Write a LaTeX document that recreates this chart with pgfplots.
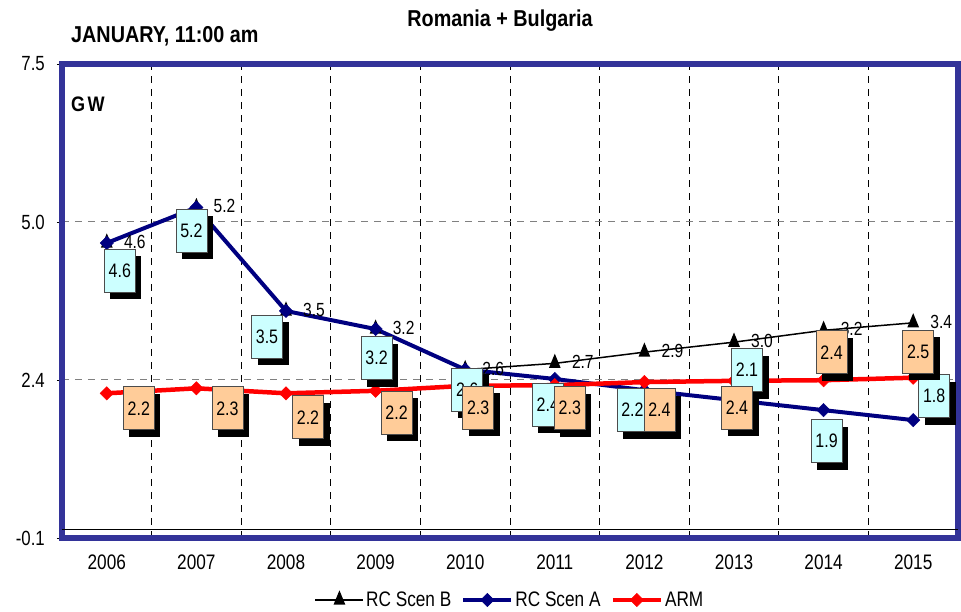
\documentclass[border=0pt]{standalone}
\usepackage{fontspec}
\setmainfont[FakeStretch=0.82]{Liberation Sans}
\newfontfamily\tfont[FakeStretch=0.86]{Liberation Sans}
\usepackage{pgfplots}
\pgfplotsset{compat=1.18}
\usepackage{pgfplotstable}
\usetikzlibrary{shadows}
\definecolor{frameblue}{RGB}{51,51,153}
\definecolor{navyA}{RGB}{0,0,128}
\definecolor{cyanbox}{RGB}{204,255,255}
\definecolor{orangebox}{RGB}{255,204,153}

% RC Scen B
\pgfplotstableread{
x y lab
0 4.63 4.6
1 5.20 5.2
2 3.54 3.5
3 3.25 3.2
4 2.60 2.6
5 2.70 2.7
6 2.88 2.9
7 3.04 3.0
8 3.23 3.2
9 3.35 3.4
}\tabB
% RC Scen A (dx, dy: label box offsets in pt)
\pgfplotstableread{
x y lab dx dy
0 4.63 4.6 13 -28
1 5.20 5.2 -5 -23
2 3.54 3.5 -19 -26
3 3.25 3.2 1 -29
4 2.60 2.6 2 -20
5 2.45 2.4 -7 -26
6 2.27 2.2 -12 -20
7 2.11 2.1 13 30
8 1.95 1.9 3 -31
9 1.79 1.8 21 24
}\tabA
% ARM
\pgfplotstableread{
x y lab dx dy
0 2.22 2.2 32 -15
1 2.30 2.3 31 -20
2 2.22 2.2 22 -24
3 2.26 2.2 21 -22
4 2.34 2.3 13 -22
5 2.35 2.3 15 -23
6 2.40 2.4 15 -28
7 2.42 2.4 3 -27
8 2.43 2.4 8 28
9 2.47 2.5 5 26
}\tabARM

\pgfplotsset{
  labelbox/.style={
    draw=none, mark=none, forget plot,
    nodes near coords, point meta=explicit symbolic,
    visualization depends on={\thisrow{dx}\as\dx},
    visualization depends on={\thisrow{dy}\as\dy},
    every node near coord/.append style={
      anchor=center, xshift=\dx pt, yshift=\dy pt,
      draw=black!70, line width=0.8pt, fill=#1,
      minimum width=31pt, minimum height=43pt, inner sep=0pt,
      font=\fontsize{19.5}{19.5}\selectfont,
      drop shadow={shadow xshift=6pt, shadow yshift=-7pt, fill=black, opacity=1}
    }
  }
}

\begin{document}
\begin{tikzpicture}
\useasboundingbox (-62pt,-74pt) rectangle (899pt,538pt);
\begin{axis}[
  at={(0pt,0pt)}, anchor=south west,
  width=896pt, height=474pt, scale only axis,
  clip=false,
  xmin=-0.5, xmax=9.5, ymin=-0.1, ymax=7.5,
  xtick={0,...,9},
  xticklabels={2006,2007,2008,2009,2010,2011,2012,2013,2014,2015},
  minor xtick={0.5,1.5,...,8.5},
  minor tick length=0pt,
  xminorgrids,
  minor grid style={black, line width=0.8pt, dash pattern=on 7pt off 6pt},
  ytick={-0.1,2.4333,4.9667,7.5},
  yticklabels={-0.1,2.4,5.0,7.5},
  ymajorgrids,
  major grid style={gray, line width=1pt, dash pattern=on 7pt off 6pt},
  extra y ticks={0.044},
  extra y tick labels={},
  extra y tick style={major grid style={black, solid, line width=0.8pt}, tick style={draw=none}},
  axis line style={draw=frameblue, line width=6pt, line cap=rect},
  tick align=outside,
  major tick length=5pt,
  xtick style={draw=none},
  ytick style={black, line width=0.8pt},
  ytick pos=left, xtick pos=bottom,
  yticklabel style={anchor=east, inner sep=0pt, xshift=-12pt, font=\fontsize{20.5}{20.5}\selectfont},
  xticklabel style={anchor=base, inner sep=0pt, yshift=-27pt, font=\fontsize{21}{21}\selectfont},
  legend columns=3,
  legend style={at={(0.5,-0.1308)}, anchor=center, draw=none, fill=none,
    font=\fontsize{21}{21}\selectfont,
    nodes={inner sep=2pt},
    /tikz/every even column/.append style={column sep=8pt}},
  legend image code/.code={\draw[mark repeat=2,mark phase=2,#1] plot coordinates {(0pt,0pt) (24pt,0pt) (48pt,0pt)};},
]
% lines
\addplot[black, line width=1.5pt, mark=triangle*, mark size=5.5pt, mark options={yscale=1.4, solid}] table[x=x,y=y] {\tabB};
\addlegendentry{RC Scen B}
\addplot[navyA, line width=4pt, mark=square*, mark size=4.7pt, mark options={rotate=45, solid, line width=0.5pt}] table[x=x,y=y] {\tabA};
\addlegendentry{RC Scen A}
\addplot[red, line width=4.5pt, mark=square*, mark size=4.7pt, mark options={rotate=45, solid, line width=0.5pt}] table[x=x,y=y] {\tabARM};
\addlegendentry{ARM}
% Scen B plain labels
\addplot[draw=none, mark=none, forget plot, nodes near coords, point meta=explicit symbolic,
  every node near coord/.append style={anchor=west, xshift=17pt, yshift=1pt, inner sep=0pt,
    font=\fontsize{19}{19}\selectfont, text=black}]
  table[x=x,y=y,meta=lab] {\tabB};
% Scen A boxes
\addplot[labelbox=cyanbox] table[x=x,y=y,meta=lab] {\tabA};
% ARM boxes
\addplot[labelbox=orangebox] table[x=x,y=y,meta=lab] {\tabARM};
\end{axis}
\node[font=\tfont\bfseries\fontsize{23}{23}\selectfont, anchor=base, inner sep=0pt] at (438pt,511pt) {Romania + Bulgaria};
\node[font=\tfont\bfseries\fontsize{23}{23}\selectfont, anchor=base west, inner sep=0pt] at (9pt,495pt) {JANUARY, 11:00 am};
\node[font=\tfont\bfseries\fontsize{21}{21}\selectfont, anchor=base west, inner sep=0pt] at (9pt,426pt) {G\kern2.5pt W};
\end{tikzpicture}
\end{document}
